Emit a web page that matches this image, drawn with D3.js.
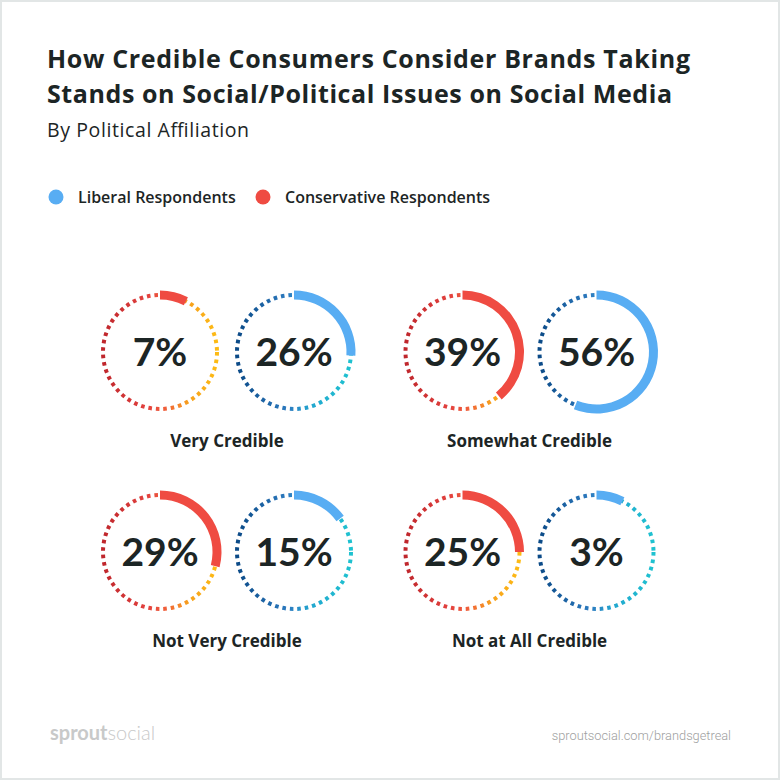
<!DOCTYPE html>
<html>
<head>
<meta charset="utf-8">
<script src="https://cdn.jsdelivr.net/npm/d3@7"></script>
<style>
  html, body { margin: 0; padding: 0; background: #fff; }
  svg { display: block; }
  text { font-family: "Open Sans", Lato, sans-serif; }
</style>
</head>
<body>
<div id="chart"></div>
<script>
// data
const categories = ['Very Credible', 'Somewhat Credible', 'Not Very Credible', 'Not at All Credible'];
const liberal = [26, 56, 15, 3];
const conservative = [7, 39, 29, 25];
const seriesNames = ['Liberal Respondents', 'Conservative Respondents'];
const titleLines = ['How Credible Consumers Consider Brands Taking', 'Stands on Social/Political Issues on Social Media'];
const subtitle = 'By Political Affiliation';

const W = 780, H = 780;
const ink = '#1c2525';
const red = '#ef4b42';
const blue = '#58adf3';

const svg = d3.select('#chart').append('svg')
    .attr('width', W)
    .attr('height', H);

// background + thin frame
svg.append('rect')
    .attr('x', 1).attr('y', 1)
    .attr('width', W - 2).attr('height', H - 2)
    .style('fill', '#fff')
    .style('stroke', '#e2e6e6')
    .style('stroke-width', 2);

// gradients for the dotted rings
const defs = svg.append('defs');
function gradient(id, stops) {
    const g = defs.append('linearGradient')
        .attr('id', id)
        .attr('x1', 0).attr('y1', 0.5)
        .attr('x2', 1).attr('y2', 0.5);
    g.selectAll('stop')
        .data(stops)
        .enter().append('stop')
        .attr('offset', d => d[0])
        .attr('stop-color', d => d[1]);
}
gradient('grad-cons', [[0, '#bf262c'], [0.4, '#e4433f'], [0.55, '#f0603a'], [0.75, '#f7a01d'], [1, '#fdbb14']]);
gradient('grad-lib', [[0, '#0b4a87'], [0.45, '#2d7bc0'], [0.65, '#22a7cf'], [1, '#1fc2d0']]);

/* HEADER */
// widths of the title lines as set in the original
const titleWidths = [643, 625];
svg.append('g').selectAll('text')
    .data(titleLines)
    .enter().append('text')
    .attr('x', 47)
    .attr('y', (d, i) => 68 + i * 34.5)
    .attr('textLength', (d, i) => titleWidths[i])
    .attr('lengthAdjust', 'spacing')
    .style('font-size', '25px')
    .style('font-weight', 700)
    .style('fill', ink)
    .text(d => d);

svg.append('text')
    .attr('x', 47)
    .attr('y', 137)
    .attr('textLength', 202)
    .attr('lengthAdjust', 'spacing')
    .style('font-size', '19.5px')
    .style('font-weight', 500)
    .style('fill', ink)
    .text(subtitle);

/* LEGEND */
const legendColor = d3.scaleOrdinal().domain(seriesNames).range([blue, red]);
const legendX = d3.scaleOrdinal().domain(seriesNames).range([56, 263]);
const legend = svg.append('g').selectAll('g')
    .data(seriesNames)
    .enter().append('g')
    .attr('transform', d => `translate(${legendX(d)},197)`);
legend.append('circle')
    .attr('r', 7.5)
    .style('fill', d => legendColor(d));
legend.append('text')
    .attr('x', 22)
    .attr('dy', '0.35em')
    .style('font-size', '16px')
    .style('font-weight', 600)
    .style('fill', ink)
    .text(d => d);

/* DONUTS */
const r = 57;
const col = d3.scalePoint().domain([0, 1]).range([227, 529.5]);
const row = d3.scalePoint().domain([0, 1]).range([352, 552]);
const pairGap = 67; // half distance between the two rings of a pair
const angle = d3.scaleLinear().domain([0, 100]).range([0, 2 * Math.PI]);
const minArc = 7.5; // tiny shares are drawn with a visible sliver
const arc = d3.arc()
    .innerRadius(r - 4.5)
    .outerRadius(r + 4.5)
    .startAngle(0)
    .endAngle(d => angle(Math.max(d.value, minArc)));

const panels = categories.map((c, i) => ({
    name: c,
    cx: col(i % 2),
    cy: row(Math.floor(i / 2)),
    rings: [
        {value: conservative[i], grad: 'grad-cons', fill: red, dx: -pairGap},
        {value: liberal[i], grad: 'grad-lib', fill: blue, dx: pairGap}
    ]
}));

const panel = svg.append('g').selectAll('.panel')
    .data(panels)
    .enter().append('g')
    .classed('panel', true)
    .attr('transform', d => `translate(${d.cx},${d.cy})`);

const ring = panel.selectAll('.ring')
    .data(d => d.rings)
    .enter().append('g')
    .classed('ring', true)
    .attr('transform', d => `translate(${d.dx},0)`);

ring.append('circle')
    .attr('r', r)
    .style('fill', 'none')
    .style('stroke', d => `url(#${d.grad})`)
    .style('stroke-width', 4)
    .style('stroke-dasharray', '3.6 3.9');

ring.append('path')
    .attr('d', arc)
    .style('fill', d => d.fill);

ring.append('text')
    .attr('text-anchor', 'middle')
    .attr('dy', '0.36em')
    .style('font-family', 'Lato, sans-serif')
    .style('font-size', '39px')
    .style('font-weight', 700)
    .style('fill', ink)
    .text(d => `${d.value}%`);

panel.append('text')
    .attr('y', 95)
    .attr('text-anchor', 'middle')
    .style('font-size', '17px')
    .style('font-weight', 700)
    .style('fill', ink)
    .text(d => d.name);

/* FOOTER */
const logo = svg.append('text')
    .attr('x', 50)
    .attr('y', 740)
    .style('font-family', 'Lato, sans-serif')
    .style('font-size', '20px')
    .style('fill', '#c8c9c9');
logo.append('tspan').style('font-weight', 700).text('sprout');
logo.append('tspan').style('font-weight', 300).text('social');

svg.append('text')
    .attr('x', 731)
    .attr('y', 740)
    .attr('text-anchor', 'end')
    .style('font-family', 'Roboto, sans-serif')
    .style('font-size', '12.8px')
    .style('font-weight', 300)
    .style('fill', '#9ea0a0')
    .text('sproutsocial.com/brandsgetreal');
</script>
</body>
</html>
